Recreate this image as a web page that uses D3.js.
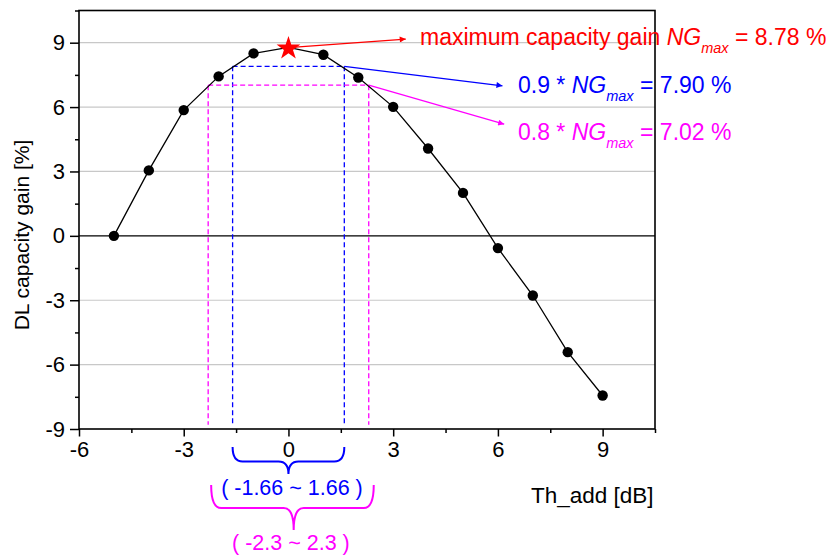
<!DOCTYPE html>
<html><head><meta charset="utf-8">
<script src="https://cdn.jsdelivr.net/npm/d3@7"></script>
<style>body{margin:0;background:#fff}text{font-family:"Liberation Sans",Arial,sans-serif}</style>
</head><body><svg id="c" width="829" height="555"></svg>
<script>
const thAdd = [-5,-4,-3,-2,-1,0,1,2,3,4,5,6,7,8,9];
const gain  = [0,3.05,5.86,7.43,8.50,8.78,8.44,7.38,6.01,4.07,2.00,-0.57,-2.78,-5.42,-7.44];
const xTicks = [-6,-3,0,3,6,9];
const yTicks = [-9,-6,-3,0,3,6,9];
const xMinor = [-4.5,-1.5,1.5,4.5,7.5,10.5];
const yMinor = [-7.5,-4.5,-1.5,1.5,4.5,7.5,10.5];
const gridVals = [-6,-3,3,6,9];
const ngMax = 8.78, ng90 = 7.90, ng80 = 7.02;
const range90 = [-1.6, 1.6], range80 = [-2.3, 2.3];
const label90 = "( -1.66 ~ 1.66 )", label80 = "( -2.3 ~ 2.3 )";

const svg = d3.select("#c");
const x = d3.scaleLinear().domain([-6,10.5]).range([79,655]);
const y = d3.scaleLinear().domain([-9,10.5]).range([429,10.5]);
const RED="#ff0000", BLUE="#0000ff", MAG="#ff00ff";
const fmt = d => String(d);

// grid
svg.append("g").selectAll("line").data(gridVals).join("line")
  .attr("x1",x(-6)).attr("x2",x(10.5)).attr("y1",d=>y(d)).attr("y2",d=>y(d))
  .attr("stroke","#c8c8c8").attr("stroke-width",1.2);
svg.append("line").attr("x1",x(-6)).attr("x2",x(10.5)).attr("y1",y(0)).attr("y2",y(0))
  .attr("stroke","#000").attr("stroke-width",1.3);

// dashed guides
function guide(level, r, col){
  const g = svg.append("g").attr("stroke",col).attr("stroke-width",1.3).attr("stroke-dasharray","5,3").attr("fill","none");
  g.append("line").attr("x1",x(r[0])).attr("x2",x(r[1])).attr("y1",y(level)).attr("y2",y(level));
  r.forEach(v=>g.append("line").attr("x1",x(v)).attr("x2",x(v)).attr("y1",y(level)).attr("y2",y(-8.8)));
}
guide(ng90, range90, BLUE);
guide(ng80, range80, MAG);

// axes
function styleAxis(g){ g.selectAll("path").remove(); g.selectAll("line").attr("stroke","#000").attr("stroke-width",1.5);
  g.selectAll("text").attr("font-size",22).attr("fill","#000").attr("font-family","Liberation Sans, Arial"); }
svg.append("g").attr("transform",`translate(0,${y(-9)})`)
  .call(d3.axisBottom(x).tickValues(xTicks).tickSize(7.5).tickPadding(5).tickFormat(fmt)).call(styleAxis);
svg.append("g").attr("transform",`translate(0,${y(-9)})`)
  .call(d3.axisBottom(x).tickValues(xMinor).tickSize(4).tickFormat("")).call(styleAxis);
svg.append("g").attr("transform",`translate(${x(-6)},0)`)
  .call(d3.axisLeft(y).tickValues(yTicks).tickSize(9).tickPadding(5).tickFormat(fmt)).call(styleAxis);
svg.append("g").attr("transform",`translate(${x(-6)},0)`)
  .call(d3.axisLeft(y).tickValues(yMinor).tickSize(4).tickFormat("")).call(styleAxis);
svg.append("rect").attr("x",x(-6)).attr("y",y(10.5)).attr("width",x(10.5)-x(-6)).attr("height",y(-9)-y(10.5))
  .attr("fill","none").attr("stroke","#000").attr("stroke-width",1.6);

// data
svg.append("path").datum(thAdd.map((d,i)=>[d,gain[i]]))
  .attr("d",d3.line().x(d=>x(d[0])).y(d=>y(d[1]))).attr("fill","none").attr("stroke","#000").attr("stroke-width",1.3);
svg.append("g").selectAll("circle").data(thAdd.map((d,i)=>[d,gain[i]]).filter(d=>d[0]!==0)).join("circle")
  .attr("cx",d=>x(d[0])).attr("cy",d=>y(d[1])).attr("r",5.2).attr("fill","#000");
svg.append("path").attr("d",d3.symbol(d3.symbolStar).size(175)())
  .attr("transform",`translate(${x(0)},${y(ngMax)+1})`).attr("fill",RED);

// arrows
const defs = svg.append("defs");
[["r",RED],["b",BLUE],["m",MAG]].forEach(([id,c])=>{
  defs.append("marker").attr("id","ah"+id).attr("viewBox","0 0 10 10").attr("refX",10).attr("refY",5)
   .attr("markerWidth",10).attr("markerHeight",6).attr("markerUnits","userSpaceOnUse").attr("orient","auto")
   .append("path").attr("d","M0,0L10,5L0,10Z").attr("fill",c);
});
function arrow(a,b,id,c){ svg.append("line").attr("x1",x(a[0])).attr("y1",y(a[1])).attr("x2",x(b[0])).attr("y2",y(b[1]))
  .attr("stroke",c).attr("stroke-width",1.3).attr("marker-end",`url(#ah${id})`); }
arrow([0.1,ngMax],[3.36,9.17],"r",RED);
arrow([range90[1],ng90],[6.13,6.99],"b",BLUE);
arrow([range80[1],ng80],[6.18,5.2],"m",MAG);

// annotations
function ann(px,py,pre,val,col){
  const t = svg.append("text").attr("x",px).attr("y",py).attr("fill",col).attr("font-size",23);
  t.append("tspan").text(pre);
  t.append("tspan").attr("font-style","italic").text("NG");
  t.append("tspan").attr("font-style","italic").attr("font-size",14.5).attr("dy",8).text("max");
  t.append("tspan").attr("dy",-8).text(" = "+val+" %");
}
ann(420,45,"maximum capacity gain ","8.78",RED);
ann(518,93,"0.9 * ","7.90",BLUE);
ann(518,140,"0.8 * ","7.02",MAG);

// axis titles
svg.append("text").attr("x",531).attr("y",503).attr("font-size",22.5).attr("fill","#000").text("Th_add [dB]");
svg.append("text").attr("transform","translate(29,235) rotate(-90)").attr("text-anchor","middle")
  .attr("font-size",21).attr("fill","#000").text("DL capacity gain [%]");

// braces
function brace(x1,x2,xm,yTop,yMid,yTip,col){
  const r=10;
  const p=`M${x1},${yTop} Q${x1},${yMid} ${x1+r},${yMid} L${xm-r},${yMid} Q${xm},${yMid} ${xm},${yTip} Q${xm},${yMid} ${xm+r},${yMid} L${x2-r},${yMid} Q${x2},${yMid} ${x2},${yTop}`;
  svg.append("path").attr("d",p).attr("fill","none").attr("stroke",col).attr("stroke-width",2);
}
brace(x(range90[0]),x(range90[1]),x(0),447,461.5,474,BLUE);
brace(x(range80[0])+3,x(range80[1])+5,x(0.15),485,508,530,MAG);
svg.append("text").attr("x",x(0.1)).attr("y",495).attr("text-anchor","middle").attr("font-size",21.5).attr("fill",BLUE).text(label90);
svg.append("text").attr("x",x(0.07)).attr("y",550).attr("text-anchor","middle").attr("font-size",21.5).attr("fill",MAG).text(label80);
</script></body></html>
